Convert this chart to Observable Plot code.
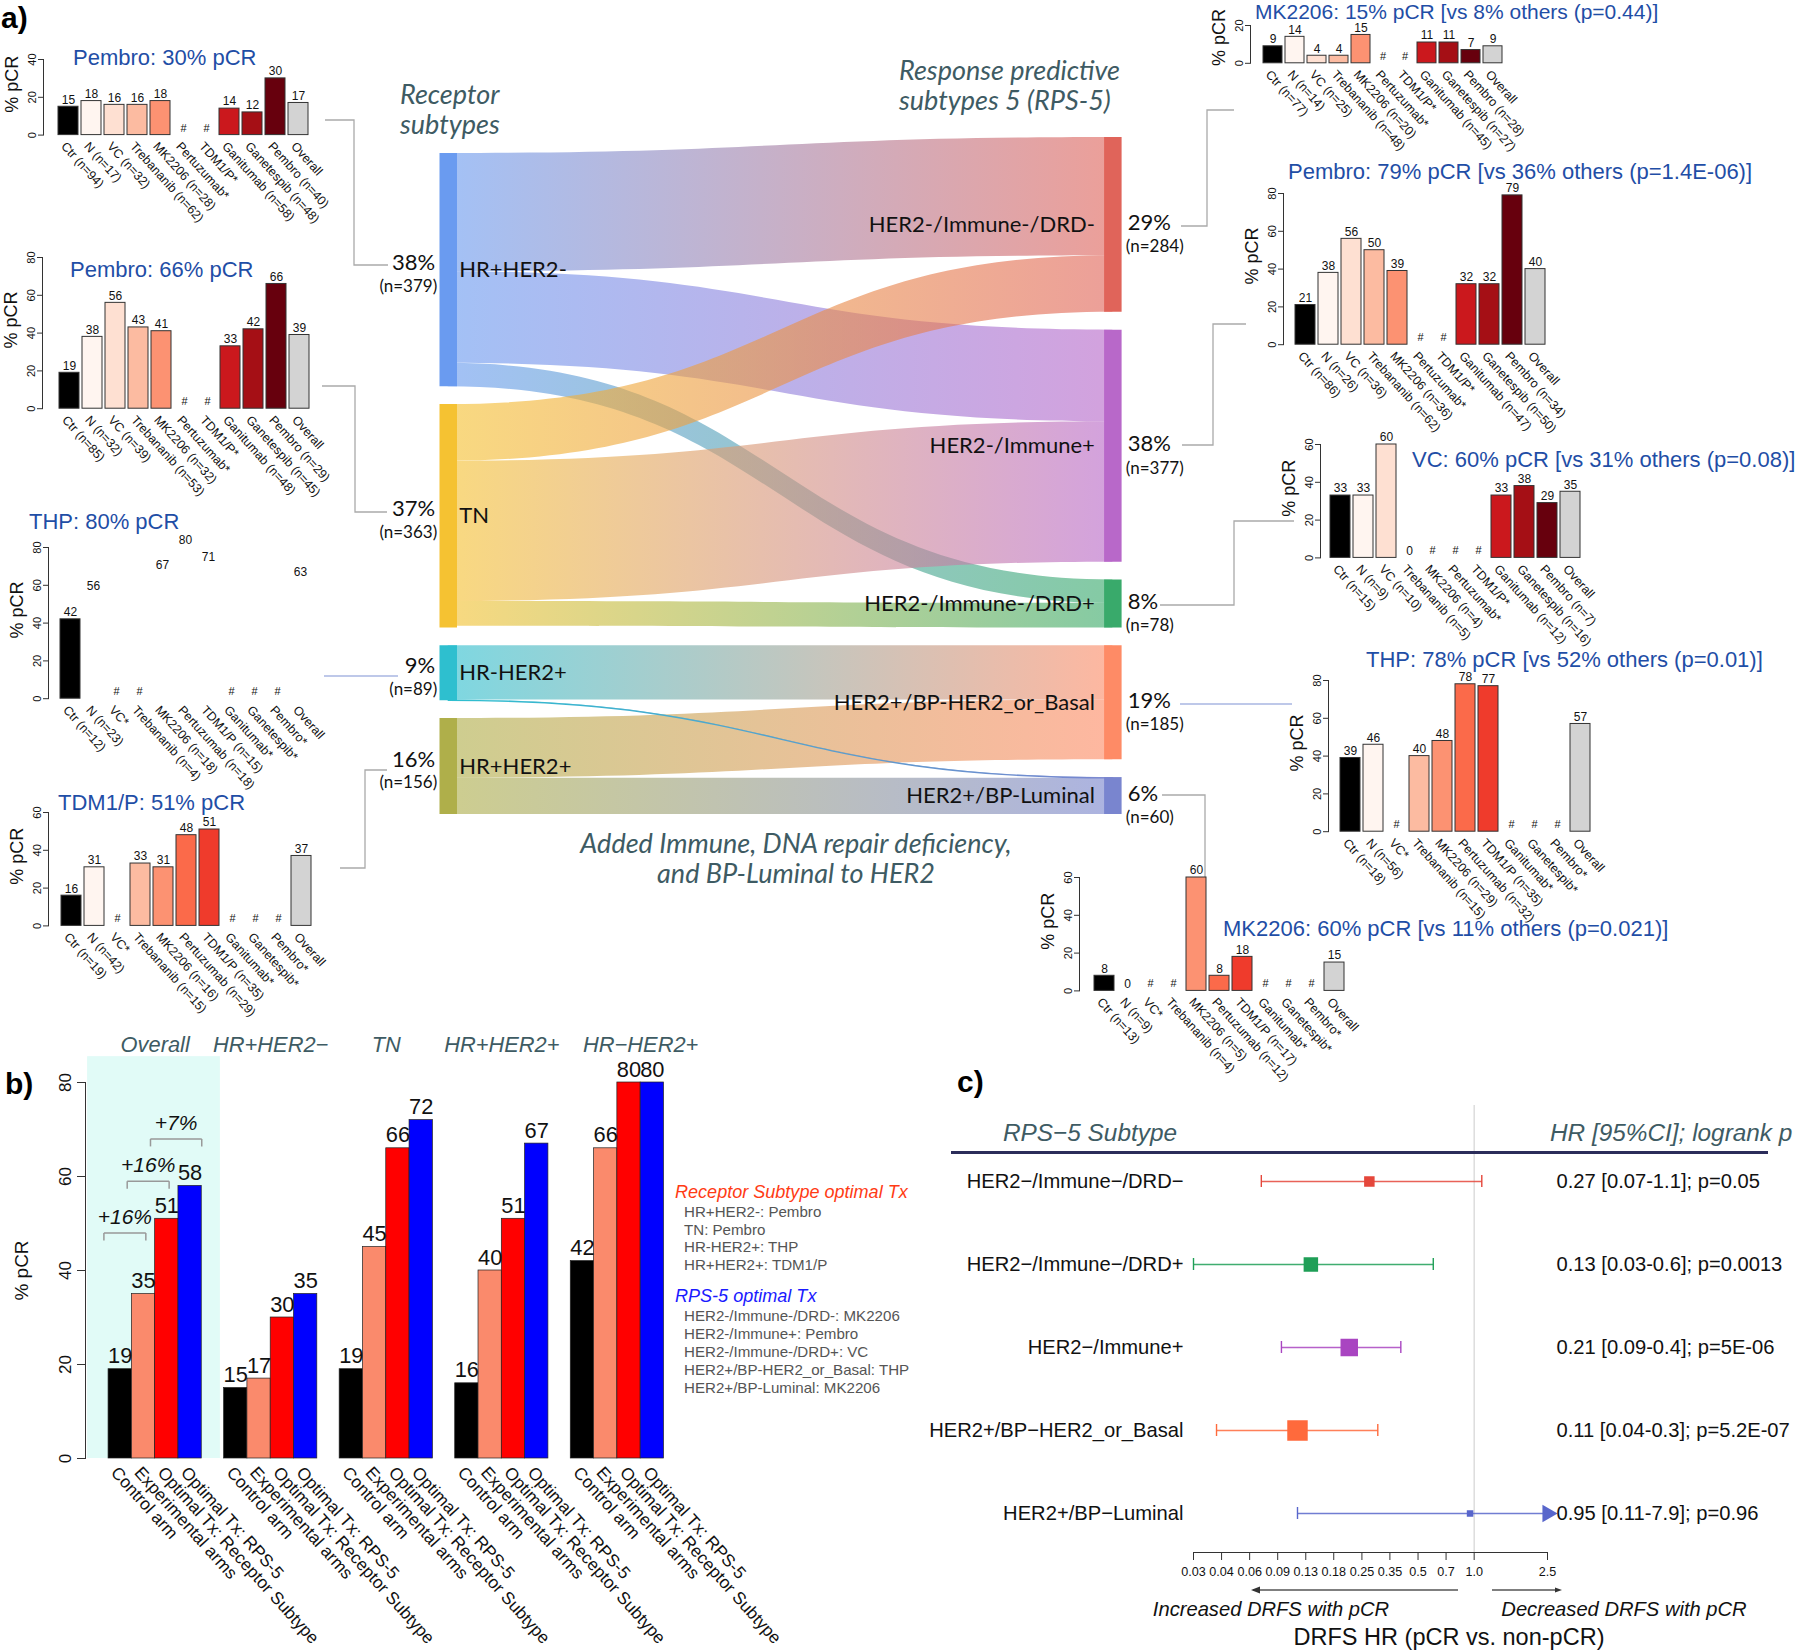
<!DOCTYPE html>
<html><head><meta charset="utf-8">
<script src="https://cdn.jsdelivr.net/npm/d3@7"></script>
<script src="https://cdn.jsdelivr.net/npm/@observablehq/plot@0.6"></script>
<style>
html,body{margin:0;padding:0;background:#fff;}
#root{position:relative;width:1800px;height:1650px;overflow:hidden;background:#fff;}
</style></head><body><div id="root"></div>
<script>
// ================= DATA =================
const arms = ["Ctr","N","VC","Trebananib","MK2206","Pertuzumab","TDM1/P","Ganitumab","Ganetespib","Pembro","Overall"];
const armColors = ["#000000","#fff5f0","#fee0d2","#fcbba1","#fc9272","#fb6a4a","#ef3b2c","#cb181d","#a50f15","#67000d","#d3d3d3"];

// receptor subtype charts (% pCR by arm, n by arm; null = not available)
const hrPosHer2Neg_pcr = [15,18,16,16,18,null,null,14,12,30,17];
const hrPosHer2Neg_n   = [94,17,32,62,28,null,null,58,48,40,null];
const tn_pcr = [19,38,56,43,41,null,null,33,42,66,39];
const tn_n   = [85,32,39,53,32,null,null,48,45,29,null];
const hrNegHer2Pos_pcr = [42,56,null,null,67,80,71,null,null,null,63];
const hrNegHer2Pos_n   = [12,23,null,4,18,18,15,null,null,null,null];
const hrNegHer2Pos_barsShown = ["Ctr"];
const hrPosHer2Pos_pcr = [16,31,null,33,31,48,51,null,null,null,37];
const hrPosHer2Pos_n   = [19,42,null,15,16,29,35,null,null,null,null];

// RPS-5 subtype charts
const drdNeg_pcr = [9,14,4,4,15,null,null,11,11,7,9];
const drdNeg_n   = [77,14,25,48,20,null,null,45,27,28,null];
const immPos_pcr = [21,38,56,50,39,null,null,32,32,79,40];
const immPos_n   = [86,26,36,62,36,null,null,47,50,34,null];
const drdPos_pcr = [33,33,60,0,null,null,null,33,38,29,35];
const drdPos_n   = [15,9,10,5,4,null,null,12,16,7,null];
const basal_pcr  = [39,46,null,40,48,78,77,null,null,null,57];
const basal_n    = [18,56,null,15,29,32,35,null,null,null,null];
const luminal_pcr = [8,0,null,null,60,8,18,null,null,null,15];
const luminal_n   = [13,9,null,4,5,12,17,null,null,null,null];

const titles = {
  hrPosHer2Neg: "Pembro: 30% pCR", tn: "Pembro: 66% pCR", hrNegHer2Pos: "THP: 80% pCR", hrPosHer2Pos: "TDM1/P: 51% pCR",
  drdNeg: "MK2206: 15% pCR [vs 8% others (p=0.44)]", immPos: "Pembro: 79% pCR [vs 36% others (p=1.4E-06)]",
  drdPos: "VC: 60% pCR [vs 31% others (p=0.08)]", basal: "THP: 78% pCR [vs 52% others (p=0.01)]",
  luminal: "MK2206: 60% pCR [vs 11% others (p=0.021)]"
};

// sankey
const receptorSubtypes = ["HR+HER2-","TN","HR-HER2+","HR+HER2+"];
const receptorN = [379,363,89,156];
const receptorColors = ["#6a9bf0","#f5c232","#2ebfcf","#afaf4a"];
const rpsSubtypes = ["HER2-/Immune-/DRD-","HER2-/Immune+","HER2-/Immune-/DRD+","HER2+/BP-HER2_or_Basal","HER2+/BP-Luminal"];
const rpsN = [284,377,78,185,60];
const rpsColors = ["#e0645a","#b868c9","#39aa6b","#fe8b66","#7985cf"];
const flowSource = [0,0,0,1,1,1,2,2,3,3];
const flowTarget = [0,1,2,0,1,2,3,4,3,4];
const flowN      = [192,149,38,92,228,40,88,1,97,59];

// panel b
const bGroups = ["Overall","HR+HER2\u2212","TN","HR+HER2+","HR\u2212HER2+"];
const bArms = ["Control arm","Experimental arms","Optimal Tx: Receptor Subtype","Optimal Tx: RPS-5"];
const bColors = ["#000000","#fa8a6c","#ff0000","#0000ff"];
const bControl = [19,15,19,16,42];
const bExperimental = [35,17,45,40,66];
const bOptimalReceptor = [51,30,66,51,80];
const bOptimalRPS5 = [58,35,72,67,80];
const bBrackets = ["+16%","+16%","+7%"];
const legendReceptorTitle = "Receptor Subtype optimal Tx";
const legendReceptor = ["HR+HER2-: Pembro","TN: Pembro","HR-HER2+: THP","HR+HER2+: TDM1/P"];
const legendRPSTitle = "RPS-5 optimal Tx";
const legendRPS = ["HER2-/Immune-/DRD-: MK2206","HER2-/Immune+: Pembro","HER2-/Immune-/DRD+: VC","HER2+/BP-HER2_or_Basal: THP","HER2+/BP-Luminal: MK2206"];

// panel c
const cSubtypes = ["HER2\u2212/Immune\u2212/DRD\u2212","HER2\u2212/Immune\u2212/DRD+","HER2\u2212/Immune+","HER2+/BP\u2212HER2_or_Basal","HER2+/BP\u2212Luminal"];
const cHR = [0.27,0.13,0.21,0.11,0.95];
const cLo = [0.07,0.03,0.09,0.04,0.11];
const cHi = [1.1,0.6,0.4,0.3,7.9];
const cP  = ["0.05","0.0013","5E-06","5.2E-07","0.96"];
const cColors = ["#e5473b","#1f9f57","#a945c1","#ff6a3c","#5866cb"];
const cWeight = [9,13,16,19,5];
const cTicks = [0.03,0.0426,0.0605,0.0859,0.122,0.173,0.246,0.349,0.496,0.704,1.0,2.5];
const cTickLabels = ["0.03","0.04","0.06","0.09","0.13","0.18","0.25","0.35","0.5","0.7","1.0","2.5"];

// ================= HELPERS =================
function fontAvailable(name){
  const c=document.createElement("canvas").getContext("2d");
  const s="abcdefghijklmnopqrstuvwxyz0123456789ABCDEF";
  c.font="40px monospace"; const w1=c.measureText(s).width;
  c.font=`40px '${name}', monospace`; const w2=c.measureText(s).width;
  return Math.abs(w1-w2)>1;
}
const HAS_NARROW = fontAvailable("Liberation Sans Narrow");
const FONT = "'Liberation Sans', Arial, Helvetica, sans-serif";
const NARROW = HAS_NARROW ? "'Liberation Sans Narrow', 'Liberation Sans', sans-serif" : FONT;
const NS = HAS_NARROW ? 1 : 0.84;
const SANK = "Lato, 'Liberation Sans', sans-serif";
const BLUE = "#1f4ea6";
const SLATE = "#3e5b63";

const root = document.getElementById("root");
function addDiv(text, css){
  const d=document.createElement("div");
  d.style.position="absolute"; d.style.whiteSpace="nowrap";
  if(text!=null) d.textContent=text;
  Object.assign(d.style, css); root.appendChild(d); return d;
}
function placePlot(plot, left, top){
  const d=addDiv(null,{left:left+"px",top:top+"px"}); d.appendChild(plot);
}
const plotStyle = {background:"transparent", overflow:"visible", maxWidth:"none", fontFamily:FONT, color:"#111"};

// ================= OVERLAY (connectors) =================
const overlay = d3.create("svg").attr("width",1800).attr("height",1650)
  .style("position","absolute").style("left","0px").style("top","0px");
root.appendChild(overlay.node());
const connectors = [
  {pts:[[325,120],[354,120],[354,265],[388,265]], c:"#aaaaaa"},
  {pts:[[322,386],[355,386],[355,512],[387,512]], c:"#aaaaaa"},
  {pts:[[324,676],[398,676]], c:"#a9b6e2"},
  {pts:[[340,868],[365,868],[365,770],[387,770]], c:"#aaaaaa"},
  {pts:[[1181,226],[1207,226],[1207,110],[1234,110]], c:"#aaaaaa"},
  {pts:[[1182,445],[1213,445],[1213,324],[1246,324]], c:"#aaaaaa"},
  {pts:[[1160,605],[1234,605],[1234,521],[1294,521]], c:"#aaaaaa"},
  {pts:[[1180,704],[1292,704]], c:"#a9b6e2"},
  {pts:[[1162,795],[1205,795],[1205,884]], c:"#aaaaaa"}
];
connectors.forEach(k=>overlay.append("path").attr("d",d3.line()(k.pts)).attr("fill","none").attr("stroke",k.c).attr("stroke-width",1.3));

// ================= SANKEY =================
const GAP = 29;
const rightTotal = d3.sum(rpsN) + GAP*(rpsN.length-1);
const leftTotal = d3.sum(receptorN) + GAP*(receptorN.length-1);
let yy = rightTotal - leftTotal;
const leftNodes = receptorSubtypes.map((name,i)=>{const o={name,col:0,n:receptorN[i],y0:yy,y1:yy+receptorN[i],color:receptorColors[i],off:yy}; yy+=receptorN[i]+GAP; return o;});
yy = 0;
const rightNodes = rpsSubtypes.map((name,i)=>{const o={name,col:1,n:rpsN[i],y0:yy,y1:yy+rpsN[i],color:rpsColors[i],off:yy}; yy+=rpsN[i]+GAP; return o;});
const flows = flowN.map((v,i)=>{
  const s=leftNodes[flowSource[i]], t=rightNodes[flowTarget[i]];
  const f={id:i,v,s,t,sy0:s.off,sy1:s.off+v,ty0:t.off,ty1:t.off+v,grad:`url(#flow${i})`};
  s.off+=v; t.off+=v; return f;
});
const flowPts = flows.flatMap(f=>[{id:f.id,x:0,y1:f.sy0,y2:f.sy1,grad:f.grad},{id:f.id,x:1,y1:f.ty0,y2:f.ty1,grad:f.grad}]);
const thinPts = flows.filter(f=>f.v<=2).flatMap(f=>[{id:f.id,x:0,y:(f.sy0+f.sy1)/2,grad:f.grad},{id:f.id,x:1,y:(f.ty0+f.ty1)/2,grad:f.grad}]);
const nodes = leftNodes.concat(rightNodes);
const leftTot = d3.sum(receptorN), rightTot = d3.sum(rpsN);
const mid = d=>(d.y0+d.y1)/2;
const sankey = Plot.plot({
  width:1800, height:900, margin:0, style:{...plotStyle, fontFamily:SANK},
  x:{domain:[0,1], range:[447.75,1112.35], axis:null},
  y:{domain:[0,rightTotal], range:[137,814], axis:null},
  color:{type:"identity"},
  marks:[
    Plot.areaY(flowPts,{x:"x",y1:"y1",y2:"y2",z:"id",fill:"grad",fillOpacity:0.62,curve:"bump-x"}),
    Plot.line(thinPts,{x:"x",y:"y",z:"id",stroke:"grad",strokeWidth:1.4,curve:"bump-x"}),
    Plot.ruleX(nodes,{x:"col",y1:"y0",y2:"y1",stroke:"color",strokeWidth:17.5}),
    Plot.text(leftNodes,{x:"col",y:mid,text:"name",dx:11,textAnchor:"start",fontSize:22}),
    Plot.text(rightNodes,{x:"col",y:mid,text:"name",dx:-18,textAnchor:"end",fontSize:22}),
    Plot.text(leftNodes,{x:"col",y:mid,text:d=>Math.round(100*d.n/leftTot)+"%",dx:-13,dy:-7,textAnchor:"end",fontSize:22}),
    Plot.text(leftNodes,{x:"col",y:mid,text:d=>`(n=${d.n})`,dx:-11,dy:16,textAnchor:"end",fontSize:17}),
    Plot.text(rightNodes,{x:"col",y:mid,text:d=>Math.round(100*d.n/rightTot)+"%",dx:15,dy:-2,textAnchor:"start",fontSize:22}),
    Plot.text(rightNodes,{x:"col",y:mid,text:d=>`(n=${d.n})`,dx:13,dy:22,textAnchor:"start",fontSize:17})
  ]
});
{
  const svg = d3.select(sankey);
  const defs = svg.insert("defs",":first-child");
  flows.forEach(f=>{
    const g=defs.append("linearGradient").attr("id",`flow${f.id}`).attr("x1","0%").attr("x2","100%").attr("y1","0%").attr("y2","0%");
    g.append("stop").attr("offset","0%").attr("stop-color",f.s.color);
    g.append("stop").attr("offset","100%").attr("stop-color",f.t.color);
  });
}
placePlot(sankey,0,0);

const annoCss = {fontFamily:SANK,fontStyle:"italic",fontSize:"27px",lineHeight:"30px",color:SLATE,whiteSpace:"pre"};
addDiv("Receptor\nsubtypes",{...annoCss,left:"400px",top:"79px"});
addDiv("Response predictive\nsubtypes 5 (RPS-5)",{...annoCss,left:"899px",top:"55px"});
addDiv("Added Immune, DNA repair deficiency,\nand BP-Luminal to HER2",{...annoCss,left:"796px",top:"828px",transform:"translateX(-50%)",textAlign:"center"});

// ================= SMALL BAR CHARTS =================
const PPU = 1.89;
function smallChart(pcr, n, title, L, barsShown){
  const rows = arms.map((arm,i)=>({arm, v:pcr[i], n:n[i], color:armColors[i],
    label: n[i]!=null ? `${arm} (n=${n[i]})` : (arm==="Overall" ? arm : `${arm}*`)}));
  const yTop = L.y0 - L.max*PPU;
  const left = L.axisX - 60, top = yTop - 20;
  const r0 = L.barL - left - 0.06*L.slot, r1 = r0 + arms.length*L.slot;
  const W = Math.ceil(r1 + 10), H = Math.ceil(L.y0 - top + 10);
  const mb = H - (L.y0 - top);
  const withV = rows.filter(d=>d.v!=null);
  const bars = withV.filter(d=>!barsShown || barsShown.includes(d.arm));
  const p = Plot.plot({
    width:W, height:H, marginLeft:60, marginTop:20, marginRight:10, marginBottom:mb,
    style:plotStyle,
    x:{domain:rows.map(d=>d.label), range:[r0,r1], paddingInner:0.12, paddingOuter:0.06, axis:null},
    y:{domain:[0,L.max], range:[L.y0-top, yTop-top], axis:null},
    color:{type:"identity"},
    marks:[
      Plot.frame({anchor:"left", stroke:"#333"}),
      Plot.axisY({ticks:L.ticks, tickRotate:-90, tickSize:5, tickPadding:3, fontSize:11, label:null, stroke:"#333"}),
      Plot.barY(bars,{x:"label",y:"v",fill:"color",stroke:"#333",strokeWidth:1}),
      Plot.text(withV,{x:"label",y:"v",text:d=>String(d.v),dy:-7,fontSize:12}),
      Plot.text(rows.filter(d=>d.v==null),{x:"label",y:0,text:()=>"#",dy:-7,fontSize:11}),
      Plot.text(rows,{x:"label",y:0,text:"label",rotate:48,textAnchor:"start",dx:-5,dy:9,fontSize:12.5}),
      Plot.text(["% pCR"],{frameAnchor:"left",y:()=>L.max/2,text:d=>d,rotate:-90,textAnchor:"middle",dx:-31,dy:L.labDy ?? -13,fontSize:18})
    ]
  });
  placePlot(p,left,top);
  const fs = L.titleSize ?? 22;
  addDiv(title,{left:L.titleX+"px",top:(L.titleY-fs*0.55)+"px",fontSize:fs+"px",lineHeight:(fs*1.1)+"px",color:BLUE,fontFamily:FONT});
}
smallChart(hrPosHer2Neg_pcr, hrPosHer2Neg_n, titles.hrPosHer2Neg, {axisX:43,y0:135,max:40,ticks:[0,20,40],barL:55,slot:23.5,titleX:73,titleY:58});
smallChart(tn_pcr, tn_n, titles.tn, {axisX:42,y0:408,max:80,ticks:[0,20,40,60,80],barL:57,slot:23.4,titleX:70,titleY:270});
smallChart(hrNegHer2Pos_pcr, hrNegHer2Pos_n, titles.hrNegHer2Pos, {axisX:48,y0:698,max:80,ticks:[0,20,40,60,80],barL:58,slot:23.4,titleX:29,titleY:522}, hrNegHer2Pos_barsShown);
smallChart(hrPosHer2Pos_pcr, hrPosHer2Pos_n, titles.hrPosHer2Pos, {axisX:48,y0:925,max:60,ticks:[0,20,40,60],barL:58,slot:23.5,titleX:58,titleY:803});
smallChart(drdNeg_pcr, drdNeg_n, titles.drdNeg, {axisX:1250,y0:63,max:20,ticks:[0,20],barL:1260,slot:22.5,titleX:1255,titleY:12,titleSize:21,labDy:-7});
smallChart(immPos_pcr, immPos_n, titles.immPos, {axisX:1283,y0:344,max:80,ticks:[0,20,40,60,80],barL:1292,slot:23.5,titleX:1288,titleY:172});
smallChart(drdPos_pcr, drdPos_n, titles.drdPos, {axisX:1320,y0:557,max:60,ticks:[0,20,40,60],barL:1330,slot:23.0,titleX:1412,titleY:460});
smallChart(basal_pcr, basal_n, titles.basal, {axisX:1328,y0:831,max:80,ticks:[0,20,40,60,80],barL:1338,slot:23.3,titleX:1366,titleY:660});
smallChart(luminal_pcr, luminal_n, titles.luminal, {axisX:1079,y0:990,max:60,ticks:[0,20,40,60],barL:1091,slot:23.5,titleX:1223,titleY:929});

// ================= PANEL B =================
const GSTEP = 4.96;
const groupLabelShift = [0,0,0,0,1.0];
const bracketLevels = [48,59,68];
const bSeries = [bControl,bExperimental,bOptimalReceptor,bOptimalRPS5];
const bRows = bGroups.flatMap((g,gi)=>bArms.map((a,ai)=>({g,a,v:bSeries[ai][gi],pos:gi*GSTEP+ai,color:bColors[ai]})));
const brackets = bBrackets.map((label,i)=>({label,x1:i-0.2,x2:i+1.6+(i===2?0.4:0),y:bracketLevels[i]}));
const pB = Plot.plot({
  width:900, height:650, marginLeft:85, marginRight:220, marginTop:82, marginBottom:192,
  style:plotStyle,
  x:{domain:[-0.99,24.55], axis:null},
  y:{domain:[0,80], axis:null},
  color:{type:"identity"},
  marks:[
    Plot.rect(bGroups.slice(0,1),{x1:()=>-0.9,x2:()=>bArms.length+0.8,y1:()=>0,y2:()=>85.5,fill:"#e1fbf7"}),
    Plot.rectY(bRows,{x1:"pos",x2:d=>d.pos+1,y:"v",fill:"color",stroke:"#222",strokeWidth:0.7}),
    Plot.link(brackets,{x1:"x1",x2:"x2",y1:"y",y2:"y",stroke:"#999",strokeWidth:1.5}),
    Plot.link(brackets,{x1:"x1",x2:"x1",y1:"y",y2:d=>d.y-1.6,stroke:"#999",strokeWidth:1.5}),
    Plot.link(brackets,{x1:"x2",x2:"x2",y1:"y",y2:d=>d.y-1.6,stroke:"#999",strokeWidth:1.5}),
    Plot.text(brackets,{x:d=>(d.x1+d.x2)/2,y:"y",dy:-16,text:"label",fontStyle:"italic",fontSize:25*NS,fontFamily:NARROW}),
    Plot.text(bRows,{x:d=>d.pos+0.5,y:"v",text:d=>String(d.v),dy:-13,fontSize:26*NS,fontFamily:NARROW}),
    Plot.text(bRows,{x:d=>d.pos+0.5,y:0,text:"a",rotate:48,textAnchor:"start",dx:-6,dy:11,fontSize:17.3}),
    Plot.text(bGroups.map((g,gi)=>({g,c:gi*GSTEP+2+groupLabelShift[gi]})),{x:"c",y:()=>80,text:"g",dy:-38,fontStyle:"italic",fontSize:26*NS,fill:SLATE,fontFamily:NARROW}),
    Plot.frame({anchor:"left",stroke:"#333"}),
    Plot.axisY({ticks:[0,20,40,60,80],tickRotate:-90,tickSize:8,tickPadding:7,fontSize:17,label:null,stroke:"#333"}),
    Plot.text(["% pCR"],{frameAnchor:"left",y:()=>40,text:d=>d,rotate:-90,textAnchor:"middle",dx:-64,fontSize:19})
  ]
});
placePlot(pB,0,1000);
addDiv(legendReceptorTitle,{left:"675px",top:"1180px",fontStyle:"italic",color:"#ff3b14",fontSize:(21.5*NS)+"px",lineHeight:"24px",fontFamily:NARROW});
legendReceptor.forEach((t,i)=>addDiv(t,{left:"684px",top:(1202+i*17.7)+"px",color:"#555",fontSize:(18*NS)+"px",lineHeight:"20px",fontFamily:NARROW}));
addDiv(legendRPSTitle,{left:"675px",top:"1284px",fontStyle:"italic",color:"#1a1aff",fontSize:(21.5*NS)+"px",lineHeight:"24px",fontFamily:NARROW});
legendRPS.forEach((t,i)=>addDiv(t,{left:"684px",top:(1306+i*18)+"px",color:"#555",fontSize:(18*NS)+"px",lineHeight:"20px",fontFamily:NARROW}));

// ================= PANEL C =================
const xMaxC = cTicks[cTicks.length-1];
const cTickRows = cTicks.map((t,i)=>({t,label:cTickLabels[i]}));
const cRows = cSubtypes.map((s,i)=>({s,hr:cHR[i],lo:cLo[i],hi:cHi[i],p:cP[i],color:cColors[i],w:cWeight[i],clipped:cHi[i]>xMaxC,hiDraw:Math.min(cHi[i],xMaxC)}));
const pC = Plot.plot({
  width:900, height:560, marginLeft:293, marginRight:253, marginTop:15, marginBottom:98,
  style:{...plotStyle,fontFamily:NARROW},
  x:{type:"log",domain:[cTicks[0],xMaxC],axis:null},
  y:{domain:cSubtypes,range:[47,466],paddingInner:0.857,paddingOuter:0.4285,axis:null},
  r:{type:"linear",domain:[0,19],range:[0,10.7]},
  color:{type:"identity"},
  marks:[
    Plot.ruleX([1],{stroke:"#d4d4d4",strokeWidth:1.2}),
    Plot.link(cRows,{x1:"lo",x2:"hiDraw",y1:"s",y2:"s",stroke:"color",strokeWidth:1.4,strokeOpacity:0.85}),
    Plot.tickX(cRows,{x:"lo",y:"s",stroke:"color",strokeWidth:1.4}),
    Plot.tickX(cRows.filter(d=>!d.clipped),{x:"hi",y:"s",stroke:"color",strokeWidth:1.4}),
    Plot.dot(cRows,{x:"hr",y:"s",r:"w",symbol:"square",fill:"color",stroke:"color"}),
    Plot.dot(cRows.filter(d=>d.clipped),{x:"hiDraw",y:"s",symbol:"triangle",rotate:90,r:6.5,fill:"color"}),
    Plot.text(cRows,{y:"s",text:"s",frameAnchor:"left",dx:-10,textAnchor:"end",fontSize:24*NS}),
    Plot.text(cRows,{y:"s",text:d=>`${d.hr} [${d.lo}-${d.hi}]; p=${d.p}`,frameAnchor:"right",dx:9,textAnchor:"start",fontSize:24*NS}),
    Plot.frame({anchor:"bottom",stroke:"#333"}),
    Plot.axisX({ticks:cTicks,tickFormat:()=>"",tickSize:8,label:null,stroke:"#333"}),
    Plot.text(cTickRows,{x:"t",text:"label",frameAnchor:"bottom",textAnchor:"middle",dy:23,fontSize:15*NS})
  ]
});
placePlot(pC,900,1090);
const cHeadCss = {fontStyle:"italic",fontSize:(29*NS)+"px",lineHeight:"32px",color:SLATE,fontFamily:NARROW};
addDiv("RPS\u22125 Subtype",{...cHeadCss,left:"1090px",top:"1117px",transform:"translateX(-50%)"});
addDiv("HR [95%CI]; logrank p",{...cHeadCss,left:"1550px",top:"1117px"});
addDiv(null,{left:"951px",top:"1151px",width:"817px",height:"2.5px",background:"#2b2d5a"});
addDiv("Increased DRFS with pCR",{left:"1271px",top:"1595px",transform:"translateX(-50%)",fontStyle:"italic",fontSize:(24*NS)+"px",lineHeight:"28px",color:"#111",fontFamily:NARROW});
addDiv("Decreased DRFS with pCR",{left:"1624px",top:"1595px",transform:"translateX(-50%)",fontStyle:"italic",fontSize:(24*NS)+"px",lineHeight:"28px",color:"#111",fontFamily:NARROW});
addDiv("DRFS HR (pCR vs. non-pCR)",{left:"1449px",top:"1623px",transform:"translateX(-50%)",fontSize:(28*NS)+"px",lineHeight:"28px",color:"#111",fontFamily:NARROW});
// direction arrows
overlay.append("path").attr("d","M1458,1590L1253,1590").attr("stroke","#555").attr("stroke-width",1.6);
overlay.append("path").attr("d","M1251,1590L1260,1586.5L1260,1593.5Z").attr("fill","#333");
overlay.append("path").attr("d","M1492,1590L1559,1590").attr("stroke","#555").attr("stroke-width",1.6);
overlay.append("path").attr("d","M1562,1590L1555,1587.5L1555,1592.5Z").attr("fill","#333");

// panel letters
addDiv("a)",{left:"1px",top:"0px",fontWeight:"bold",fontSize:"30px",lineHeight:"36px",fontFamily:FONT});
addDiv("b)",{left:"5px",top:"1066px",fontWeight:"bold",fontSize:"30px",lineHeight:"36px",fontFamily:FONT});
addDiv("c)",{left:"957px",top:"1064px",fontWeight:"bold",fontSize:"30px",lineHeight:"36px",fontFamily:FONT});
</script></body></html>
